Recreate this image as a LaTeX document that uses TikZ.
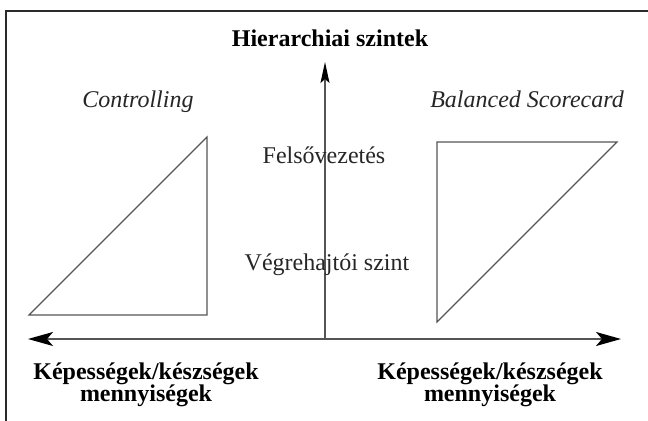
\documentclass[tikz,border=0pt]{standalone}
\usepackage{fontspec}
\setmainfont{Liberation Serif}
\usepackage{tikz}
\usetikzlibrary{arrows.meta}
\definecolor{cerceve}{HTML}{2B2B2B}
\definecolor{cizgiGri}{HTML}{555555}
\tikzset{
  ucgen/.style={cizgiGri,line width=0.6pt,line join=miter},
  eksen/.style={cizgiGri,line width=0.7pt},
  eksenbas/.style={black,font={\fontsize{12pt}{14pt}\selectfont\bfseries}},
  altyazi/.style={font={\fontsize{12pt}{11pt}\selectfont\bfseries},align=center,anchor=base,inner sep=0pt},
  etiket/.style={anchor=base,inner sep=0pt,text=black!85,font={\fontsize{12pt}{14pt}\selectfont}}
}

\begin{document}
\begin{tikzpicture}[x=0.5pt,y=-0.5pt]
\useasboundingbox (0,0) rectangle (648,421);
% cerceve (ust ve sol kenar)
\draw[cerceve,line width=0.9pt] (6,421)--(6,11)--(648,11);
% eksenler
\coordinate (yAlt) at (325,339);
\coordinate (yUst) at (325,62);
\coordinate (xSol) at (28,339);
\coordinate (xSag) at (621,339);
\draw[eksen,-{Stealth[length=10.5pt,width=4.5pt,inset=2pt,black]}] (yAlt)--(yUst);
\draw[eksen,{Stealth[length=12.5pt,width=7pt,inset=3pt,black]}-{Stealth[length=12.5pt,width=7pt,inset=3pt,black]}] (xSol)--(xSag);
% ucgenler
\draw[ucgen] (29,315)--(207,137)--(207,315)--cycle;
\draw[ucgen] (437,142)--(617,142)--(437,322)--cycle;
% yazilar
\node[eksenbas,anchor=base,inner sep=0pt] (baslik) at (330,47) {Hierarchiai szintek};
\node[etiket] (ctrl) at (138,108) {\itshape Controlling};
\node[etiket] (bsc) at (527,108) {\itshape Balanced Scorecard};
\node[etiket] (felso) at (324,164) {Felsővezetés};
\node[etiket] (vegre) at (327,271) {Végrehajtói szint};
\node[altyazi] (solalt) at (146,402) {Képességek/készségek\\mennyiségek};
\node[altyazi] (sagalt) at (490,402) {Képességek/készségek\\mennyiségek};
\end{tikzpicture}
\end{document}
